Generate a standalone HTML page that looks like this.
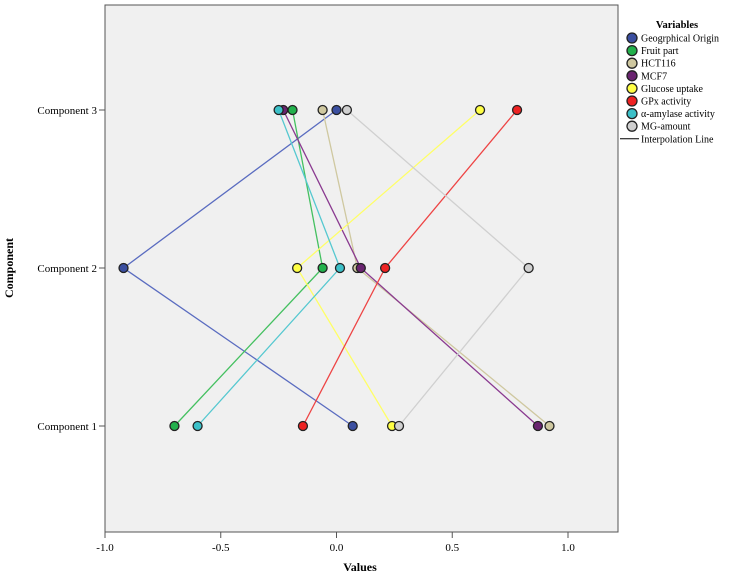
<!DOCTYPE html>
<html><head><meta charset="utf-8"><style>
body{margin:0;background:#fff;width:734px;height:576px;overflow:hidden}
text{font-family:"Liberation Serif",serif;fill:#000}
</style></head><body>
<svg id="chart" width="734" height="576" xmlns="http://www.w3.org/2000/svg">
<rect x="105" y="5" width="513" height="527" fill="#f0f0f0" stroke="#555" stroke-width="1"/>
<g id="axes"></g><g id="lines"></g><g id="points"></g>
<text x="360" y="571" font-size="12" font-weight="bold" text-anchor="middle">Values</text>
<text transform="translate(13,268) rotate(-90)" font-size="12" font-weight="bold" text-anchor="middle">Component</text>
<g id="legend"></g>
</svg>
<script>
const categories=["Component 1","Component 2","Component 3"];
const seriesNames=["Geogrphical Origin","Fruit part","HCT116","MCF7","Glucose uptake","GPx activity","α-amylase activity","MG-amount"];
const colors=["#3b4fa0","#22b14c","#cfc8a0","#6a2470","#ffff44","#ee2222","#3cc0c8","#d0d0d0"];
const lineColors=["#5a6cc0","#44c060","#cfc8a0","#8a3a90","#ffff66","#ee4444","#55c8d0","#d0d0d0"];
const geo=[0.07,-0.92,0.0];
const fruit=[-0.70,-0.06,-0.19];
const hct=[0.92,0.09,-0.06];
const mcf=[0.87,0.105,-0.23];
const glu=[0.24,-0.17,0.62];
const gpx=[-0.145,0.21,0.78];
const amy=[-0.60,0.015,-0.25];
const mg=[0.27,0.83,0.045];
const xTicks=[-1.0,-0.5,0.0,0.5,1.0];
const xTickLabels=["-1.0","-0.5","0.0","0.5","1.0"];
const series=[geo,fruit,hct,mcf,glu,gpx,amy,mg];
const NS="http://www.w3.org/2000/svg";
const xs=v=>336.5+v*231.5;
const ys=i=>426-i*158;
function mk(tag,attrs,parent){const e=document.createElementNS(NS,tag);for(const k in attrs)e.setAttribute(k,attrs[k]);parent.appendChild(e);return e;}
const axes=document.getElementById('axes');
mk('line',{x1:105,y1:532,x2:618,y2:532,stroke:'#555'},axes);
xTicks.forEach((t,i)=>{
  const l=mk('line',{x1:xs(t),y1:532,x2:xs(t),y2:538,stroke:'#555'},axes);
  
  
  const tx=mk('text',{x:xs(t),y:551,'font-size':11,'text-anchor':'middle'},axes);
  tx.textContent=xTickLabels[i];
  
  
});
categories.forEach((c,i)=>{
  mk('line',{x1:99,y1:ys(i),x2:105,y2:ys(i),stroke:'#555'},axes);
  const tx=mk('text',{x:97,y:ys(i)+4,'font-size':11,'text-anchor':'end'},axes);
  tx.textContent=c;
  
  
});
const lg=document.getElementById('lines'),pg=document.getElementById('points');
series.forEach((s,si)=>{
  const pl=mk('polyline',{points:s.map((v,i)=>xs(v)+','+ys(i)).join(' '),fill:'none',stroke:lineColors[si],'stroke-width':1.3},lg);
  
  
});
series.forEach((s,si)=>{
  s.forEach((v,i)=>{
    const c=mk('circle',{cx:xs(v),cy:ys(i),r:4.5,fill:colors[si],stroke:'#222','stroke-width':1.3},pg);
    
    
  });
});
const leg=document.getElementById('legend');
const tt=mk('text',{x:677,y:28,'font-size':10.5,'font-weight':'bold','text-anchor':'middle'},leg);
tt.textContent='Variables';
seriesNames.forEach((n,i)=>{
  const y=38+i*12.6;
  const c=mk('circle',{cx:632,cy:y,r:5,fill:colors[i],stroke:'#222','stroke-width':1.3},leg);
  
  
  const t=mk('text',{x:641,y:y+3.5,'font-size':10},leg);
  t.textContent=n;
  
  
});
const ly=38+8*12.6;
mk('line',{x1:620,y1:ly,x2:639,y2:ly,stroke:'#000'},leg);
const lt=mk('text',{x:641,y:ly+3.5,'font-size':10},leg);
lt.textContent='Interpolation Line';


</script>
</body></html>
